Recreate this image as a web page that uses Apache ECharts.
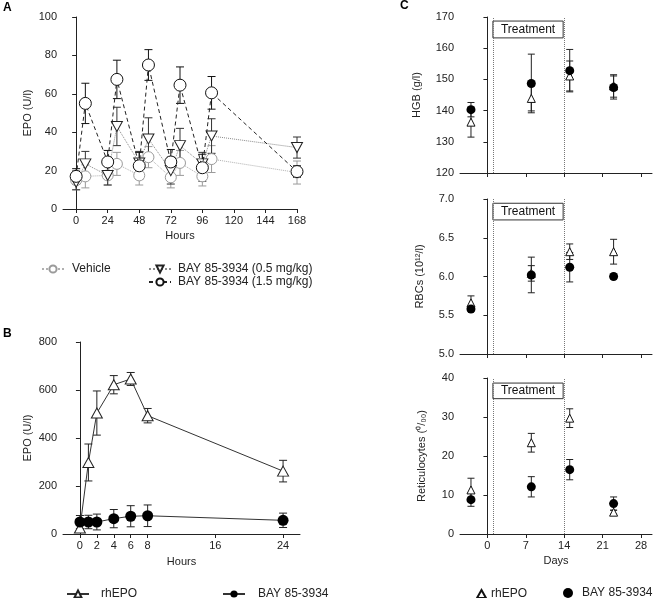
<!DOCTYPE html>
<html><head><meta charset="utf-8">
<script src="https://cdn.jsdelivr.net/npm/echarts@6/dist/echarts.min.js"></script>
<style>html,body{margin:0;padding:0;background:#fff}#c{width:654px;height:598px}</style>
</head><body><div id="c"></div><script>
// ---------- Panel A ----------
const hoursA = [0, 7, 24, 31, 48, 55, 72, 79, 96, 103, 168];
const hoursATicks = [0, 24, 48, 72, 96, 120, 144, 168];
const vehicleMean = [15, 17, 17.5, 23.5, 17.5, 27, 16.5, 24, 17, 26, 19];
const vehicleErr  = [5, 6, 5, 6, 5, 5.5, 5.5, 6.5, 5, 7, 6];
const bay05Mean   = [14, 23.5, 17.5, 43, 24, 36.5, 20, 33, 23.5, 38, 32];
const bay05Err    = [4, 6.5, 5, 10, 6, 11, 7, 9, 6, 9, 5.5];
const bay15Mean   = [17, 55, 24.5, 67.5, 22.5, 75, 24.5, 64.5, 21.5, 60.5, 19.5];
const bay15Err    = [4, 10.5, 6, 10, 7, 8, 6.5, 9.5, 7, 8.5, 3];
// ---------- Panel B ----------
const hoursB = [0, 1, 2, 4, 6, 8, 24];
const hoursBTicks = [0, 2, 4, 6, 8, 16, 24];
const rhepoBMean = [25, 298, 504, 622, 646, 493, 262];
const rhepoBErr  = [10, 77, 92, 38, 27, 30, 45];
const bayBMean   = [50, 50, 50, 64, 74, 76, 57];
const bayBErr    = [27, 28, 33, 38, 44, 45, 30];
// ---------- Panel C ----------
const daysC = [-3, 8, 15, 23];
const daysCTicks = [0, 7, 14, 21, 28];
const hgbRhMean  = [136.3, 143.9, 151.1, 147.9];
const hgbRhErr   = [4.8, 4, 4.8, 3.6];
const hgbBayMean = [140.3, 148.7, 152.8, 147.4];
const hgbBayErr  = [2.3, 9.4, 6.8, 3.7];
const rbcRhMean  = [5.66, 6.04, 6.32, 6.32];
const rbcRhErr   = [0.09, 0.1, 0.1, 0.16];
const rbcBayMean = [5.58, 6.02, 6.12, 6.0];
const rbcBayErr  = [0.03, 0.23, 0.19, 0.03];
const retRhMean  = [11.3, 23.4, 29.7, 5.6];
const retRhErr   = [3, 2.4, 2.4, 0.5];
const retBayMean = [8.8, 12.1, 16.5, 7.8];
const retBayErr  = [1.7, 2.6, 2.6, 1.7];
const treatmentDays = [1, 14];

const FONT = 'Liberation Sans, Arial, sans-serif';
const DOWN_TRI = 'path://M0,0L10,0L5,9Z';

function pairs(xs, ys) { return xs.map((x, i) => [x, ys[i]]); }
function errData(xs, m, e) { return xs.map((x, i) => [x, m[i] - e[i], m[i] + e[i]]); }

function errSeries(gi, xs, m, e, color, cap) {
  return {
    type: 'custom', xAxisIndex: gi, yAxisIndex: gi, silent: true, z: 1,
    itemStyle: { color: color },
    encode: { x: 0, y: [1, 2] },
    data: errData(xs, m, e),
    renderItem: function (params, api) {
      const x = api.value(0), lo = api.value(1), hi = api.value(2);
      const p1 = api.coord([x, lo]), p2 = api.coord([x, hi]);
      const st = { stroke: color, lineWidth: 1 };
      return { type: 'group', children: [
        { type: 'line', shape: { x1: p1[0], y1: p1[1], x2: p2[0], y2: p2[1] }, style: st },
        { type: 'line', shape: { x1: p1[0] - cap, y1: p1[1], x2: p1[0] + cap, y2: p1[1] }, style: st },
        { type: 'line', shape: { x1: p2[0] - cap, y1: p2[1], x2: p2[0] + cap, y2: p2[1] }, style: st }
      ]};
    }
  };
}

const axisCommon = {
  axisLine: { show: true, lineStyle: { color: '#222', width: 1 } },
  axisTick: { show: true, length: 4, lineStyle: { color: '#222' } },
  splitLine: { show: false },
  axisLabel: { color: '#222', fontFamily: FONT, fontSize: 11 },
  nameTextStyle: { color: '#222', fontFamily: FONT, fontSize: 11 }
};

function xAx(gi, min, max, ticks, showLabels, name, gap) {
  return Object.assign({}, axisCommon, {
    type: 'value', gridIndex: gi, min: min, max: max,
    axisTick: { show: true, length: 4, lineStyle: { color: '#222' }, customValues: ticks },
    axisLabel: { show: showLabels, color: '#222', fontFamily: FONT, fontSize: 11, margin: 6, customValues: ticks },
    name: name, nameLocation: 'middle', nameGap: gap
  });
}
function yAx(gi, min, max, interval, name, gap, fmt) {
  return Object.assign({}, axisCommon, {
    type: 'value', gridIndex: gi, min: min, max: max, interval: interval,
    axisLabel: { color: '#222', fontFamily: FONT, fontSize: 11, margin: 6, formatter: fmt },
    name: name, nameLocation: 'middle', nameGap: gap
  });
}

function treatment(gi, y0, y1) {
  return {
    type: 'scatter', xAxisIndex: gi, yAxisIndex: gi, data: [], silent: true,
    markLine: {
      silent: true, symbol: ['none', 'none'], label: { show: false },
      lineStyle: { type: 'dotted', color: '#777', width: 1 },
      data: treatmentDays.map(d => ({ xAxis: d }))
    },
    markArea: {
      silent: true,
      itemStyle: { color: '#fff', borderColor: '#333', borderWidth: 1, opacity: 1 },
      label: { show: true, position: 'inside', color: '#111', fontFamily: FONT, fontSize: 12 },
      data: [[{ name: 'Treatment', xAxis: treatmentDays[0], yAxis: y0 }, { xAxis: treatmentDays[1] - 0.2, yAxis: y1 }]]
    }
  };
}

function cSeries(gi, rhM, rhE, bayM, bayE) {
  return [
    errSeries(gi, daysC, rhM, rhE, '#222', 3.5),
    errSeries(gi, daysC, bayM, bayE, '#222', 3.5),
    { type: 'scatter', name: 'rhEPO (C)', xAxisIndex: gi, yAxisIndex: gi, z: 3,
      symbol: 'triangle', symbolSize: 8, data: pairs(daysC, rhM),
      itemStyle: { color: '#fff', borderColor: '#111', borderWidth: 1, opacity: 1 } },
    { type: 'scatter', name: 'BAY 85-3934 (C)', xAxisIndex: gi, yAxisIndex: gi, z: 3,
      symbol: 'circle', symbolSize: 9, data: pairs(daysC, bayM),
      itemStyle: { color: '#000', opacity: 1 } }
  ];
}

const legendText = { color: '#222', fontFamily: FONT, fontSize: 12 };
function lg(name, left, top, w, h, pad, extra) {
  return Object.assign({ data: [name], left: left, top: top, padding: 0, itemWidth: w, itemHeight: h,
    textStyle: Object.assign({ padding: [0, 0, 0, pad] }, legendText), selectedMode: false }, extra || {});
}
const trim = n => n.replace(' (C)', '');

const option = {
  animation: false,
  backgroundColor: '#fff',
  grid: [
    { left: 63, top: 17, width: 234, height: 192, outerBoundsMode: 'none' },
    { left: 63, top: 342, width: 237, height: 192, outerBoundsMode: 'none' },
    { left: 460, top: 17, width: 192, height: 156, outerBoundsMode: 'none' },
    { left: 460, top: 199, width: 192, height: 155, outerBoundsMode: 'none' },
    { left: 460, top: 378, width: 192, height: 156, outerBoundsMode: 'none' }
  ],
  xAxis: [
    xAx(0, -10, 168, hoursATicks, true, 'Hours', 21),
    xAx(1, -2, 26, hoursBTicks, true, 'Hours', 22),
    xAx(2, -5, 30, daysCTicks, false, '', 0),
    xAx(3, -5, 30, daysCTicks, false, '', 0),
    xAx(4, -5, 30, daysCTicks, true, 'Days', 21)
  ],
  yAxis: [
    yAx(0, 0, 100, 20, 'EPO (U/l)', 30),
    yAx(1, 0, 800, 200, 'EPO (U/l)', 30),
    yAx(2, 120, 170, 10, 'HGB (g/l)', 38),
    yAx(3, 5, 7, 0.5, 'RBCs (10\u00b9\u00b2/l)', 35, v => v.toFixed(1)),
    yAx(4, 0, 40, 10, 'Reticulocytes (\u2070/\u2080\u2080)', 33)
  ],
  legend: [
    lg('Vehicle', 41, 263, 22, 9, 3),
    lg('BAY 85-3934 (0.5 mg/kg)', 148, 263, 22, 9, 2),
    lg('BAY 85-3934 (1.5 mg/kg)', 148, 276, 22, 9, 2),
    lg('rhEPO', 66, 588, 22, 9, 7),
    lg('BAY 85-3934', 222, 588, 22, 9, 8),
    lg('rhEPO (C)', 476, 588, 9, 8, 0, { formatter: trim }),
    lg('BAY 85-3934 (C)', 563, 587, 10, 10, 4, { formatter: trim })
  ],
  graphic: [
    { type: 'text', left: 3, top: 2, style: { text: 'A', font: 'bold 12px ' + FONT, fill: '#000' } },
    { type: 'text', left: 3, top: 328, style: { text: 'B', font: 'bold 12px ' + FONT, fill: '#000' } },
    { type: 'text', left: 400, top: 0, style: { text: 'C', font: 'bold 12px ' + FONT, fill: '#000' } }
  ],
  series: [
    // Panel A
    errSeries(0, hoursA, vehicleMean, vehicleErr, '#9a9a9a', 4),
    errSeries(0, hoursA, bay05Mean, bay05Err, '#333', 4),
    errSeries(0, hoursA, bay15Mean, bay15Err, '#111', 4),
    { type: 'line', name: 'Vehicle', xAxisIndex: 0, yAxisIndex: 0, z: 3,
      data: pairs(hoursA, vehicleMean), symbol: 'circle', symbolSize: 11,
      lineStyle: { type: 'dotted', color: '#b0b0b0', width: 1 },
      itemStyle: { color: '#fff', borderColor: '#9a9a9a', borderWidth: 1 } },
    { type: 'line', name: 'BAY 85-3934 (0.5 mg/kg)', xAxisIndex: 0, yAxisIndex: 0, z: 4,
      data: pairs(hoursA, bay05Mean), symbol: DOWN_TRI, symbolSize: [11, 10],
      lineStyle: { type: 'dotted', color: '#8a8a8a', width: 1 },
      itemStyle: { color: '#fff', borderColor: '#222', borderWidth: 1 } },
    { type: 'line', name: 'BAY 85-3934 (1.5 mg/kg)', xAxisIndex: 0, yAxisIndex: 0, z: 5,
      data: pairs(hoursA, bay15Mean), symbol: 'circle', symbolSize: 12,
      lineStyle: { type: [4, 3], color: '#222', width: 1 },
      itemStyle: { color: '#fff', borderColor: '#111', borderWidth: 1 } },
    // Panel B
    errSeries(1, hoursB, rhepoBMean, rhepoBErr, '#222', 4),
    errSeries(1, hoursB, bayBMean, bayBErr, '#222', 4),
    { type: 'line', name: 'rhEPO', xAxisIndex: 1, yAxisIndex: 1, z: 3,
      data: pairs(hoursB, rhepoBMean), symbol: 'triangle', symbolSize: [11, 10],
      lineStyle: { color: '#333', width: 1 },
      itemStyle: { color: '#fff', borderColor: '#222', borderWidth: 1 } },
    { type: 'line', name: 'BAY 85-3934', xAxisIndex: 1, yAxisIndex: 1, z: 3,
      data: pairs(hoursB, bayBMean), symbol: 'circle', symbolSize: 11,
      lineStyle: { color: '#333', width: 1 },
      itemStyle: { color: '#000' } },
    // Panel C
    treatment(2, 163.3, 168.7),
    treatment(3, 6.73, 6.945),
    treatment(4, 34.7, 38.7),
    ...cSeries(2, hgbRhMean, hgbRhErr, hgbBayMean, hgbBayErr),
    ...cSeries(3, rbcRhMean, rbcRhErr, rbcBayMean, rbcBayErr),
    ...cSeries(4, retRhMean, retRhErr, retBayMean, retBayErr)
  ]
};
const chart = echarts.init(document.getElementById('c'));
chart.setOption(option);
</script></body></html>
